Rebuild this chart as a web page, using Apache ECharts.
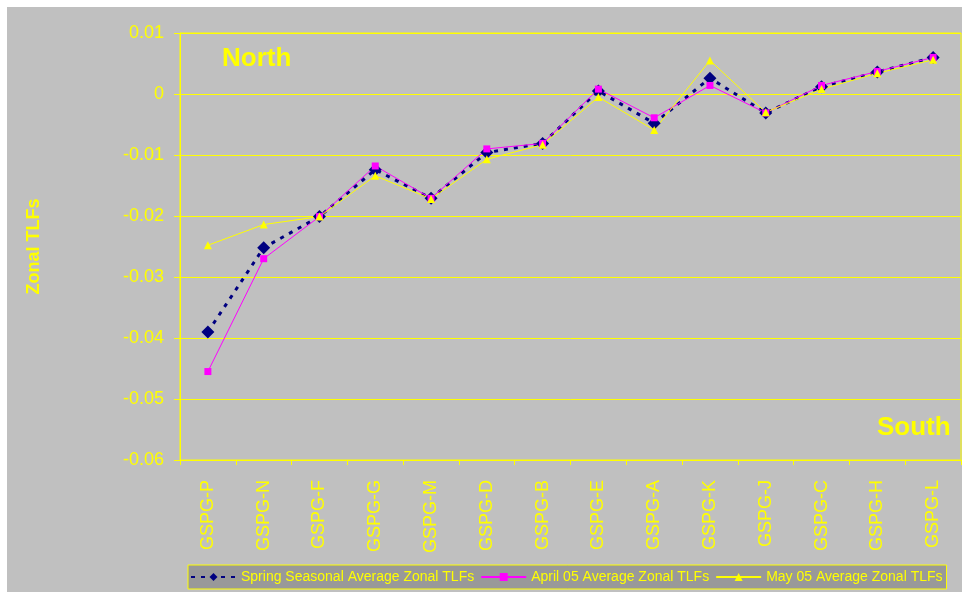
<!DOCTYPE html>
<html>
<head>
<meta charset="utf-8">
<script src="https://cdn.jsdelivr.net/npm/echarts@6/dist/echarts.min.js"></script>
<style>
  html, body { margin: 0; padding: 0; background: #fff; }
  #myChart { width: 962px; height: 592px; }
</style>
</head>
<body>
<div id="myChart"></div>
<script>
// data
var stations = ['GSPG-P', 'GSPG-N', 'GSPG-F', 'GSPG-G', 'GSPG-M', 'GSPG-D', 'GSPG-B',
                'GSPG-E', 'GSPG-A', 'GSPG-K', 'GSPG-J', 'GSPG-C', 'GSPG-H', 'GSPG-L'];
var springAvg = [-0.0390, -0.0252, -0.0201, -0.0124, -0.0171, -0.0096, -0.0081,
                 0.0005, -0.0048, 0.0026, -0.0031, 0.0012, 0.0036, 0.0060];
var april05 = [-0.0455, -0.0270, -0.0201, -0.0118, -0.0171, -0.0090, -0.0081,
               0.0008, -0.0039, 0.0014, -0.0031, 0.0014, 0.0037, 0.0060];
var may05 = [-0.0248, -0.0214, -0.0201, -0.0134, -0.0172, -0.0107, -0.0083,
             -0.0005, -0.0059, 0.0055, -0.0030, 0.0008, 0.0034, 0.0056];
var seriesNames = ['Spring Seasonal Average Zonal TLFs', 'April 05 Average Zonal TLFs', 'May 05 Average Zonal TLFs'];

var yellow = '#ffff00';
var font = 'Liberation Sans, Arial, sans-serif';

var myChart = echarts.init(document.getElementById('myChart'));

var option = {
    backgroundColor: '#c0c0c0',
    animation: false,
    textStyle: { fontFamily: font },
    graphic: [
        // white frame top / left
        { type: 'rect', left: 0, top: 0, shape: { width: 962, height: 7 }, style: { fill: '#fff' }, silent: true },
        { type: 'rect', left: 0, top: 0, shape: { width: 7, height: 592 }, style: { fill: '#fff' }, silent: true },
        { type: 'text', left: 222, top: 46, style: { text: 'North', fill: yellow, font: 'bold 26px ' + font } },
        { type: 'text', left: 877, top: 415, style: { text: 'South', fill: yellow, font: 'bold 26px ' + font } }
    ],
    grid: {
        left: 180, top: 33, right: 1, bottom: 132,
        show: true, borderColor: yellow, borderWidth: 1, backgroundColor: 'transparent'
    },
    legend: {
        left: 188, top: 565,
        padding: [5, 4, 5, 2],
        backgroundColor: '#999999',
        borderColor: yellow, borderWidth: 1, borderRadius: 0,
        itemWidth: 45, itemHeight: 10, itemGap: 6,
        textStyle: { color: yellow, fontSize: 14, fontFamily: font },
        data: seriesNames
    },
    xAxis: {
        type: 'category',
        data: stations,
        boundaryGap: true,
        axisLine: { onZero: false, lineStyle: { color: yellow, width: 1 } },
        axisTick: { show: true, length: 5, lineStyle: { color: yellow } },
        axisLabel: { rotate: 90, color: yellow, fontSize: 18, margin: 20, fontFamily: font }
    },
    yAxis: {
        type: 'value',
        min: -0.06, max: 0.01, interval: 0.01,
        name: 'Zonal TLFs',
        nameLocation: 'middle',
        nameRotate: 90,
        nameGap: 137,
        nameTextStyle: { color: yellow, fontSize: 18, fontWeight: 'bold', fontFamily: font },
        axisLine: { show: true, lineStyle: { color: yellow, width: 1 } },
        axisTick: { show: true, length: 6, lineStyle: { color: yellow } },
        splitLine: { lineStyle: { color: yellow, width: 1 } },
        axisLabel: {
            color: yellow, fontSize: 18, margin: 16, fontFamily: font,
            formatter: function (v) { return String(Math.round(v * 100) / 100); }
        }
    },
    series: [
        {
            name: seriesNames[0], type: 'line', data: springAvg,
            symbol: 'diamond', symbolSize: 13,
            itemStyle: { color: '#000080' },
            lineStyle: { color: '#000080', width: 3, type: [4, 6] }
        },
        {
            name: seriesNames[1], type: 'line', data: april05,
            symbol: 'rect', symbolSize: 7,
            itemStyle: { color: '#ff00ff' },
            lineStyle: { color: '#ff00ff', width: 1 }
        },
        {
            name: seriesNames[2], type: 'line', data: may05,
            symbol: 'triangle', symbolSize: 8,
            itemStyle: { color: yellow },
            lineStyle: { color: yellow, width: 1 }
        }
    ]
};
myChart.setOption(option);
</script>
</body>
</html>
